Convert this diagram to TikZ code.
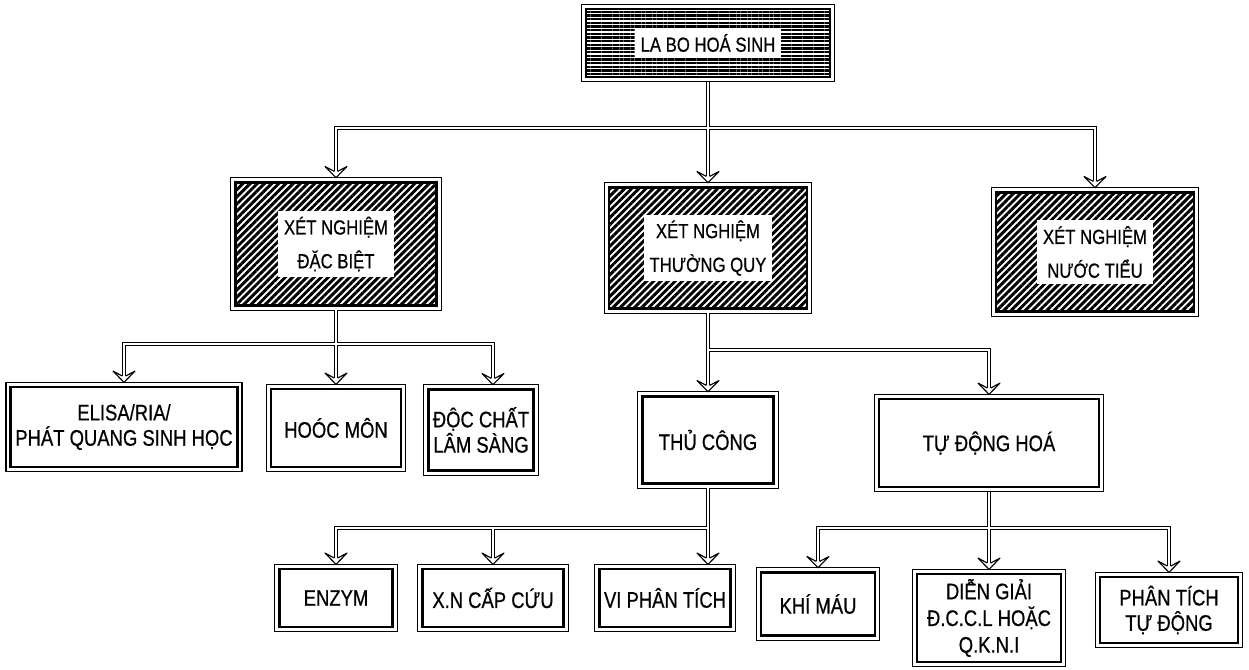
\documentclass[tikz,border=0pt]{standalone}
\usepackage{fontspec}
\setmainfont{Liberation Sans}[FakeStretch=0.82, FakeBold=0.6]
\usepackage{tikz}
\usetikzlibrary{arrows.meta, patterns.meta}
\newcommand{\boxfont}{\fontsize{16}{18}\selectfont}
\newcommand{\hatchfont}{\fontsize{14.5}{24}\selectfont}
\tikzstyle{frame} = [rectangle, draw, line width=2pt, outer sep=3.3pt, align=center, font=\boxfont, append after command={\pgfextra{\draw[line width=0.8pt] (\tikzlastnode.north west) rectangle (\tikzlastnode.south east);}}]
\tikzstyle{hatch} = [frame, pattern={Lines[angle=45, distance=3.6pt, line width=2.1pt]}]
\tikzstyle{labhatch} = [frame, pattern={Lines[angle=0, distance=2.6pt, line width=1.7pt]}]
\tikzstyle{txtbg} = [fill=white, align=center, inner sep=4pt, font=\hatchfont]
\tikzstyle{link} = [line width=0.8pt, double, double distance=1.6pt]
\tikzset{vhead/.pic={\draw[line width=0.8pt, fill=white, line join=round] (-1.2pt,4.5pt) -- (-7.8pt,8pt) -- (0,0) -- (7.8pt,8pt) -- (1.2pt,4.5pt);}}

\begin{document}
\begin{tikzpicture}[x=0.025cm, y=-0.025cm]
    \useasboundingbox (0,0) rectangle (1249,670);

    % Root
    \node[labhatch, minimum width=6.1cm, minimum height=1.7cm, label={[txtbg, font=\fontsize{14.5}{17}\selectfont]center:LA BO HOÁ SINH}] (lab) at (708,43) {};

    % Level 2
    \node[hatch, minimum width=5.03cm, minimum height=3.08cm, label={[txtbg]center:XÉT NGHIỆM\\ĐẶC BIỆT}] (dacbiet) at (336,244) {};
    \node[hatch, minimum width=4.95cm, minimum height=3.03cm, label={[txtbg]center:XÉT NGHIỆM\\THƯỜNG QUY}] (thuongquy) at (708,248) {};
    \node[hatch, minimum width=4.95cm, minimum height=2.98cm, label={[txtbg]center:XÉT NGHIỆM\\NƯỚC TIỂU}] (nuoctieu) at (1095,252) {};

    % Level 3
    \node[frame, minimum width=5.43cm, minimum height=2.0cm] (elisa) at (124,427) {ELISA/RIA/\\PHÁT QUANG SINH HỌC};
    \node[frame, minimum width=3.25cm, minimum height=1.95cm] (hoocmon) at (336,428) {HOÓC MÔN};
    \node[frame, minimum width=2.58cm, minimum height=2.03cm] (docchat) at (481,430) {ĐỘC CHẤT\\LÂM SÀNG};
    \node[frame, minimum width=3.28cm, minimum height=2.18cm] (thucong) at (708,440) {THỦ CÔNG};
    \node[frame, minimum width=5.5cm, minimum height=2.2cm] (tudong) at (989,443) {TỰ ĐỘNG HOÁ};

    % Level 4
    \node[frame, minimum width=2.83cm, minimum height=1.45cm] (enzym) at (336,598) {ENZYM};
    \node[frame, minimum width=3.53cm, minimum height=1.45cm] (capcuu) at (493,598) {X.N CẤP CỨU};
    \node[frame, minimum width=3.15cm, minimum height=1.45cm] (viphantich) at (665,598) {VI PHÂN TÍCH};
    \node[frame, minimum width=2.85cm, minimum height=1.58cm] (khimau) at (818,604) {KHÍ MÁU};
    \node[frame, minimum width=3.6cm, minimum height=2.2cm, font=\fontsize{16}{19}\selectfont] (diengiai) at (989,618) {DIỄN GIẢI\\Đ.C.C.L HOẶC\\Q.K.N.I};
    \node[frame, minimum width=3.45cm, minimum height=1.65cm] (phantich) at (1169,610) {PHÂN TÍCH\\TỰ ĐỘNG};

    % Bars
    \coordinate (bar1) at (708,128);
    \coordinate (bar2) at (336,344);
    \coordinate (bar3) at (708,350);
    \coordinate (bar4) at (708,528);
    \coordinate (bar5) at (989,528);
    \coordinate (dc-in) at ([xshift=8.5pt]docchat.north);
    \coordinate (vp-in) at (thucong.south |- viphantich.north);

    % Root -> level 2
    \draw[link] (lab.south) -- ([yshift=4.5pt]thuongquy.north)
        (bar1) -| ([yshift=4.5pt]dacbiet.north)
        (bar1) -| ([yshift=4.5pt]nuoctieu.north);

    % Dac biet
    \draw[link] (dacbiet.south) -- ([yshift=4.5pt]hoocmon.north)
        (bar2) -| ([yshift=4.5pt]elisa.north)
        (bar2) -| ([yshift=4.5pt]dc-in);

    % Thuong quy
    \draw[link] (thuongquy.south) -- ([yshift=4.5pt]thucong.north)
        (bar3) -| ([yshift=4.5pt]tudong.north);

    % Thu cong
    \draw[link] (thucong.south) -- ([yshift=4.5pt]vp-in)
        (bar4) -| ([yshift=4.5pt]enzym.north)
        (bar4) -| ([yshift=4.5pt]capcuu.north);

    % Tu dong hoa
    \draw[link] (tudong.south) -- ([yshift=4.5pt]diengiai.north)
        (bar5) -| ([yshift=4.5pt]khimau.north)
        (bar5) -| ([yshift=4.5pt]phantich.north);

    % Arrow heads
    \foreach \p in {dacbiet.north, thuongquy.north, nuoctieu.north, elisa.north, hoocmon.north, dc-in, thucong.north, tudong.north, enzym.north, capcuu.north, vp-in, khimau.north, diengiai.north, phantich.north}
        \pic at (\p) {vhead};
\end{tikzpicture}
\end{document}
